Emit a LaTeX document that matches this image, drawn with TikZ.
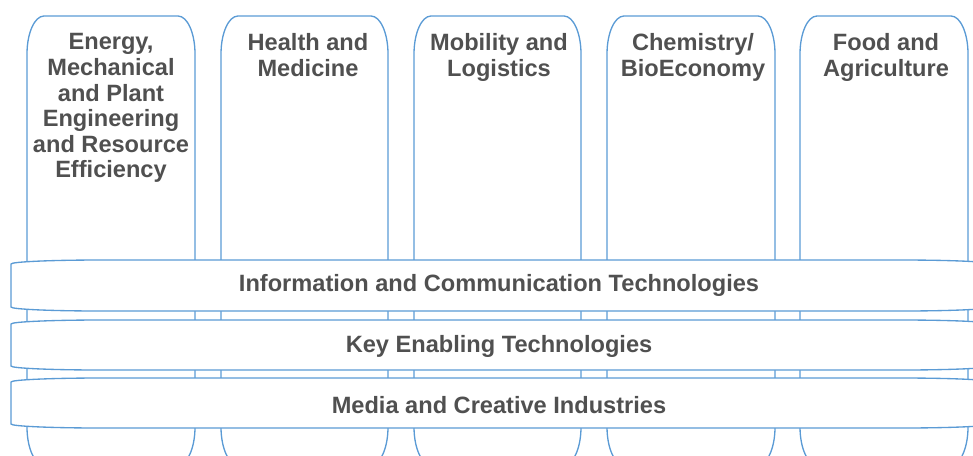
\documentclass[tikz,border=0pt]{standalone}
\usepackage{fontspec}
\setmainfont{Liberation Sans}
\usetikzlibrary{calc}
\definecolor{pillarblue}{RGB}{91,155,213}
\definecolor{labelgray}{RGB}{80,80,80}
% box with elliptic corners: [style](left,top)(right,bottom)(rx:ry)
\def\ovalbox[#1](#2,#3)(#4,#5)(#6:#7){\draw[#1] (#2, #3+#7) arc[start angle=180, end angle=270, x radius=#6, y radius=#7] -- (#4-#6, #3) arc[start angle=270, end angle=360, x radius=#6, y radius=#7] -- (#4, #5-#7) arc[start angle=0, end angle=90, x radius=#6, y radius=#7] -- (#2+#6, #5) arc[start angle=90, end angle=180, x radius=#6, y radius=#7] -- cycle;}

\begin{document}
\begin{tikzpicture}[x=0.75pt, y=-0.75pt, line width=1pt,
	pillar/.style={draw=pillarblue},
	band/.style={draw=pillarblue, fill=white},
	title/.style={font=\fontsize{17.7}{19.2}\selectfont\bfseries, text=labelgray, align=center, inner sep=0pt}]
		%%%%% START %%%%%
		
		\useasboundingbox (0,0) rectangle (973,455);
		\clip (0,0) rectangle (973,455);
		
		% the five pillars
		\ovalbox[pillar](27,16)(195,465)(17:38)
		\ovalbox[pillar](221,16)(388,465)(17:38)
		\ovalbox[pillar](414,16)(581,465)(17:38)
		\ovalbox[pillar](607,16)(775,465)(17:38)
		\ovalbox[pillar](800,16)(968,465)(17:38)
		
		\node[title, anchor=north] (energy) at (111, 33) {Energy,\\Mechanical\\and Plant\\Engineering\\and Resource\\Efficiency};
		\node[title, anchor=north] (health) at (308, 33) {Health and\\Medicine};
		\node[title, anchor=north] (mobility) at (499, 33) {Mobility and\\Logistics};
		\node[title, anchor=north] (chemistry) at (693, 33) {Chemistry/\\BioEconomy};
		\node[title, anchor=north] (food) at (886, 33) {Food and\\Agriculture};
		
		% the three cross-cutting bands
		\ovalbox[band](11,260)(991,311)(90:4)
		\ovalbox[band](11,320)(991,370)(90:4)
		\ovalbox[band](11,378)(991,428)(90:4)
		
		\node[title, anchor=base] (ict) at (499, 291) {Information and Communication Technologies};
		\node[title, anchor=base] (ket) at (499, 352) {Key Enabling Technologies};
		\node[title, anchor=base] (media) at (499, 413) {Media and Creative Industries};
		
		%%%%% END %%%%%
\end{tikzpicture}
\end{document}
